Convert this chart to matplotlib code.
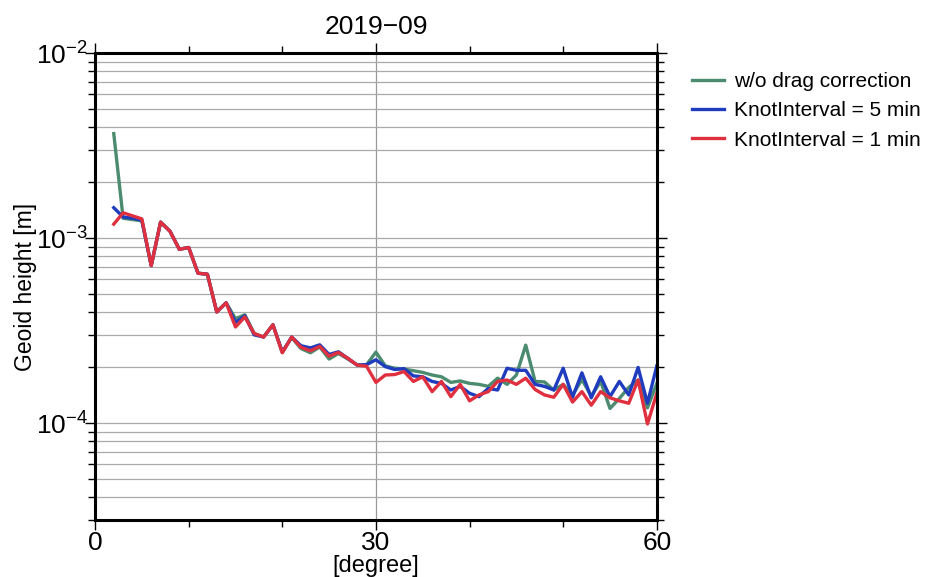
import numpy as np
import matplotlib.pyplot as plt
from matplotlib.ticker import LogLocator, MultipleLocator, NullFormatter

plt.rcParams['font.family'] = ['Liberation Sans', 'DejaVu Sans']

# spherical harmonic degree 2..60
degree = np.arange(2, 61)

# geoid height per degree, w/o drag correction
geoid_nodrag = [
    3.67e-3, 1.28e-3, 1.26e-3, 1.24e-3, 7.1e-4, 1.22e-3, 1.09e-3, 8.7e-4, 8.9e-4,
    6.46e-4, 6.38e-4, 3.99e-4, 4.47e-4, 3.67e-4, 3.85e-4, 3.05e-4, 2.92e-4, 3.4e-4,
    2.42e-4, 2.9e-4, 2.53e-4, 2.4e-4, 2.58e-4, 2.22e-4, 2.38e-4, 2.22e-4, 2.06e-4,
    2.07e-4, 2.42e-4, 2.04e-4, 1.98e-4, 1.96e-4, 1.92e-4, 1.88e-4, 1.82e-4, 1.78e-4,
    1.66e-4, 1.69e-4, 1.64e-4, 1.62e-4, 1.58e-4, 1.75e-4, 1.62e-4, 1.82e-4, 2.64e-4,
    1.68e-4, 1.67e-4, 1.51e-4, 1.62e-4, 1.42e-4, 1.72e-4, 1.4e-4, 1.68e-4, 1.2e-4,
    1.36e-4, 1.56e-4, 1.71e-4, 1.21e-4, 1.64e-4,
]

# knot interval 5 min
geoid_knot5 = [
    1.46e-3, 1.30e-3, 1.28e-3, 1.25e-3, 7.1e-4, 1.22e-3, 1.09e-3, 8.7e-4, 8.9e-4,
    6.46e-4, 6.38e-4, 3.99e-4, 4.47e-4, 3.5e-4, 3.8e-4, 3.0e-4, 2.92e-4, 3.4e-4,
    2.42e-4, 2.92e-4, 2.62e-4, 2.55e-4, 2.65e-4, 2.35e-4, 2.43e-4, 2.24e-4, 2.06e-4,
    2.07e-4, 2.2e-4, 2.02e-4, 1.95e-4, 1.97e-4, 1.80e-4, 1.78e-4, 1.68e-4, 1.64e-4,
    1.51e-4, 1.58e-4, 1.45e-4, 1.39e-4, 1.54e-4, 1.51e-4, 1.98e-4, 1.93e-4, 1.93e-4,
    1.62e-4, 1.58e-4, 1.51e-4, 1.98e-4, 1.38e-4, 1.87e-4, 1.37e-4, 1.78e-4, 1.39e-4,
    1.68e-4, 1.42e-4, 2.0e-4, 1.28e-4, 2.04e-4,
]

# knot interval 1 min
geoid_knot1 = [
    1.19e-3, 1.37e-3, 1.32e-3, 1.27e-3, 7.1e-4, 1.22e-3, 1.09e-3, 8.7e-4, 8.9e-4,
    6.46e-4, 6.38e-4, 3.99e-4, 4.47e-4, 3.31e-4, 3.75e-4, 3.05e-4, 2.92e-4, 3.4e-4,
    2.4e-4, 2.92e-4, 2.57e-4, 2.46e-4, 2.6e-4, 2.3e-4, 2.41e-4, 2.24e-4, 2.06e-4,
    2.03e-4, 1.66e-4, 1.82e-4, 1.83e-4, 1.9e-4, 1.68e-4, 1.78e-4, 1.48e-4, 1.68e-4,
    1.39e-4, 1.62e-4, 1.32e-4, 1.42e-4, 1.48e-4, 1.68e-4, 1.71e-4, 1.62e-4, 1.75e-4,
    1.52e-4, 1.42e-4, 1.38e-4, 1.62e-4, 1.30e-4, 1.48e-4, 1.25e-4, 1.48e-4, 1.37e-4,
    1.32e-4, 1.28e-4, 1.71e-4, 9.9e-5, 1.45e-4,
]

fig = plt.figure(figsize=(9.41, 5.77), dpi=100)
ax = fig.add_axes([0.101, 0.099, 0.597, 0.809])

ax.plot(degree, geoid_nodrag, color='#4b8b6f', lw=2.4, label='w/o drag correction')
ax.plot(degree, geoid_knot5, color='#1f3cbf', lw=2.4, label='KnotInterval = 5 min')
ax.plot(degree, geoid_knot1, color='#e0303f', lw=2.4, label='KnotInterval = 1 min')

ax.set_yscale('log')
ax.set_xlim(0, 60)
ax.set_ylim(3e-5, 1e-2)

ax.xaxis.set_major_locator(MultipleLocator(30))
ax.xaxis.set_minor_locator(MultipleLocator(10))
ax.yaxis.set_major_locator(LogLocator(base=10))
ax.yaxis.set_minor_locator(LogLocator(base=10, subs=np.arange(2, 10)))
ax.yaxis.set_minor_formatter(NullFormatter())

ax.grid(True, which='major', axis='x', color='#999999', lw=0.9)
ax.grid(True, which='both', axis='y', color='#aaaaaa', lw=0.9)
ax.set_axisbelow(True)

for side in ax.spines.values():
    side.set_linewidth(2.2)

ax.tick_params(which='both', direction='out', top=True, right=True,
               labelsize=19, width=1.0)
ax.tick_params(axis='x', which='both', pad=1)
ax.tick_params(axis='y', which='both', pad=-2)
ax.tick_params(which='major', length=7)
ax.tick_params(which='minor', length=5)

ax.set_title('2019\u221209', fontsize=19, pad=14)
ax.set_xlabel('[degree]', fontsize=17, labelpad=0)
ax.set_ylabel('Geoid height [m]', fontsize=16.5)
ax.yaxis.set_label_coords(-0.104, 0.5)

ax.legend(loc='upper left', bbox_to_anchor=(1.03, 1.0), frameon=False,
          fontsize=15, handlelength=1.5, handletextpad=0.5, labelspacing=0.5)

fig.savefig('out.png', dpi=100)
